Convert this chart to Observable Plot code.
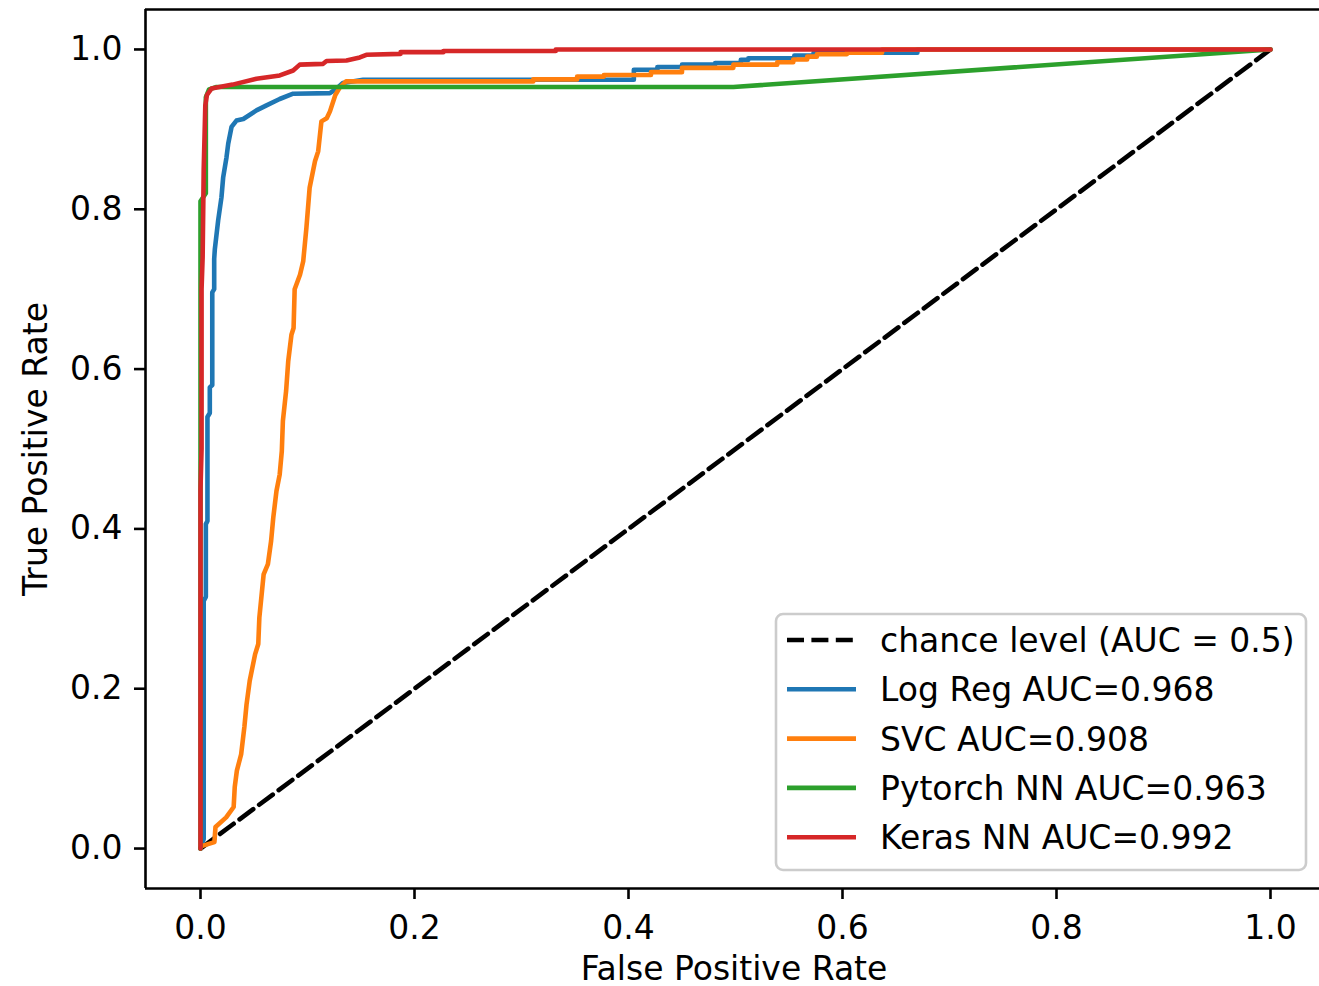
<!DOCTYPE html>
<html><head><meta charset="utf-8">
<script src="https://cdn.jsdelivr.net/npm/d3@7"></script>
<script src="https://cdn.jsdelivr.net/npm/@observablehq/plot@0.6"></script>
<style>html,body{margin:0;padding:0;background:#fff;overflow:hidden}</style>
</head><body><div id="chart"></div>
<script>
// ---- data ----
const chanceFpr = [0, 1];
const chanceTpr = [0, 1];

const logRegFpr = [0,0.003,0.003,0.005,0.005,0.0065,0.0065,0.0087,0.0087,0.011,0.011,0.0128,0.0128,0.0134,0.0165,0.0196,0.0212,0.0243,0.0259,0.029,0.0336,0.04,0.0523,0.0617,0.074,0.0866,0.121,0.127,0.133,0.152,0.405,0.405,0.427,0.427,0.45,0.45,0.481,0.481,0.505,0.505,0.512,0.512,0.555,0.555,0.573,0.573,0.67,0.67,1];
const logRegTpr = [0,0.012,0.31,0.315,0.406,0.41,0.54,0.545,0.577,0.58,0.696,0.70,0.738,0.75,0.786,0.815,0.84,0.865,0.882,0.903,0.911,0.913,0.9237,0.93,0.938,0.9446,0.9454,0.951,0.958,0.962,0.962,0.9746,0.9746,0.978,0.978,0.981,0.981,0.983,0.983,0.987,0.987,0.989,0.989,0.9925,0.9925,0.996,0.996,1.0,1];

const svcFpr = [0,0.001,0.013,0.014,0.024,0.031,0.032,0.034,0.038,0.041,0.043,0.046,0.051,0.054,0.055,0.059,0.063,0.066,0.068,0.071,0.074,0.076,0.077,0.08,0.082,0.085,0.087,0.088,0.093,0.096,0.099,0.102,0.107,0.11,0.113,0.118,0.121,0.126,0.130,0.136,0.311,0.311,0.352,0.352,0.377,0.377,0.421,0.421,0.45,0.45,0.498,0.498,0.539,0.539,0.554,0.554,0.567,0.567,0.576,0.576,0.604,0.604,0.637,0.637,1];
const svcTpr = [0,0.003,0.008,0.027,0.039,0.052,0.077,0.0975,0.118,0.152,0.18,0.21,0.243,0.256,0.289,0.343,0.356,0.385,0.414,0.4475,0.468,0.4975,0.535,0.5725,0.61,0.643,0.6515,0.70,0.718,0.735,0.777,0.827,0.86,0.8725,0.91,0.914,0.9225,0.943,0.952,0.96,0.96,0.9625,0.9625,0.966,0.966,0.968,0.968,0.9716,0.9716,0.977,0.977,0.981,0.981,0.984,0.984,0.9875,0.9875,0.991,0.991,0.994,0.994,0.996,0.996,1.0,1];

const pytorchFpr = [0,0,0.005,0.005,0.008,0.015,0.498,1];
const pytorchTpr = [0,0.81,0.82,0.94,0.95,0.953,0.953,1];

const kerasFpr = [0,0,0.001,0.001,0.002,0.003,0.0045,0.006,0.0103,0.03,0.0523,0.0741,0.0866,0.0928,0.1146,0.1178,0.1364,0.1489,0.155,0.187,0.187,0.227,0.227,0.332,0.332,1];
const kerasTpr = [0,0.45,0.5,0.7,0.74,0.85,0.93,0.943,0.951,0.956,0.9633,0.9675,0.9737,0.981,0.982,0.9855,0.9862,0.990,0.9933,0.9945,0.9966,0.9966,0.998,0.998,1.0,1];

const legendLabels = ["chance level (AUC = 0.5)", "Log Reg AUC=0.968", "SVC AUC=0.908", "Pytorch NN AUC=0.963", "Keras NN AUC=0.992"];
const seriesColors = ["#000000", "#1f77b4", "#ff7f0e", "#2ca02c", "#d62728"];
const xTicks = [0, 0.2, 0.4, 0.6, 0.8, 1.0];
const yTicks = [0, 0.2, 0.4, 0.6, 0.8, 1.0];
const xLabel = "False Positive Rate";
const yLabel = "True Positive Rate";

// ---- build ----
const rows = (f, t) => f.map((v, i) => ({fpr: v, tpr: t[i]}));
const series = [
  rows(chanceFpr, chanceTpr),
  rows(logRegFpr, logRegTpr),
  rows(svcFpr, svcTpr),
  rows(pytorchFpr, pytorchTpr),
  rows(kerasFpr, kerasTpr)
];

const W = 1319, H = 986;
const mL = 145, mR = 0, mT = 9, mB = 98;
const xDomain = [-0.0514, 1.0458];
const yDomain = [-0.05, 1.05];
const LW = 4.6, AXW = 2.6, DASH = "17,7.4", FS = 33;
const fmt = d3.format(".1f");

const marks = [];
series.forEach((data, i) => {
  marks.push(Plot.line(data, {
    x: "fpr", y: "tpr", stroke: seriesColors[i], strokeWidth: LW,
    strokeLinejoin: "round", strokeDasharray: i === 0 ? DASH : null
  }));
});
marks.push(Plot.ruleY([yDomain[0]], {stroke: "black", strokeWidth: AXW}));
marks.push(Plot.ruleY([yDomain[1]], {stroke: "black", strokeWidth: AXW}));
marks.push(Plot.ruleX([xDomain[0]], {stroke: "black", strokeWidth: AXW}));
marks.push(Plot.axisX({ticks: xTicks, tickFormat: fmt, tickSize: 11, tickPadding: 16, strokeWidth: AXW, label: null}));
marks.push(Plot.axisY({ticks: yTicks, tickFormat: fmt, tickSize: 11, tickPadding: 12, strokeWidth: AXW, label: null}));

const svg = Plot.plot({
  width: W, height: H,
  marginLeft: mL, marginRight: mR, marginTop: mT, marginBottom: mB,
  x: {domain: xDomain},
  y: {domain: yDomain},
  style: {fontFamily: "DejaVu Sans", fontSize: FS + "px", color: "black", background: "white", overflow: "visible"},
  marks
});
document.getElementById("chart").appendChild(svg);

const s = d3.select(svg);
// axis titles
s.append("text").attr("x", 734).attr("y", 980).attr("text-anchor", "middle")
  .attr("font-family", "DejaVu Sans").attr("font-size", FS).attr("fill", "black").text(xLabel);
s.append("text").attr("transform", "translate(47,449) rotate(-90)").attr("text-anchor", "middle")
  .attr("font-family", "DejaVu Sans").attr("font-size", FS).attr("fill", "black").text(yLabel);

// legend
const lg = s.append("g");
lg.append("rect").attr("x", 776).attr("y", 614).attr("width", 530).attr("height", 256)
  .attr("rx", 7).attr("fill", "white").attr("fill-opacity", 0.8)
  .attr("stroke", "#cccccc").attr("stroke-width", 2.6);
legendLabels.forEach((lab, i) => {
  const cy = 640 + i * 49.3;
  lg.append("line").attr("x1", 787).attr("x2", 856).attr("y1", cy).attr("y2", cy)
    .attr("stroke", seriesColors[i]).attr("stroke-width", LW)
    .attr("stroke-dasharray", i === 0 ? DASH : null);
  lg.append("text").attr("x", 880).attr("y", cy + 12).attr("text-anchor", "start")
    .attr("font-family", "DejaVu Sans").attr("font-size", FS).attr("fill", "black").text(lab);
});
</script></body></html>
